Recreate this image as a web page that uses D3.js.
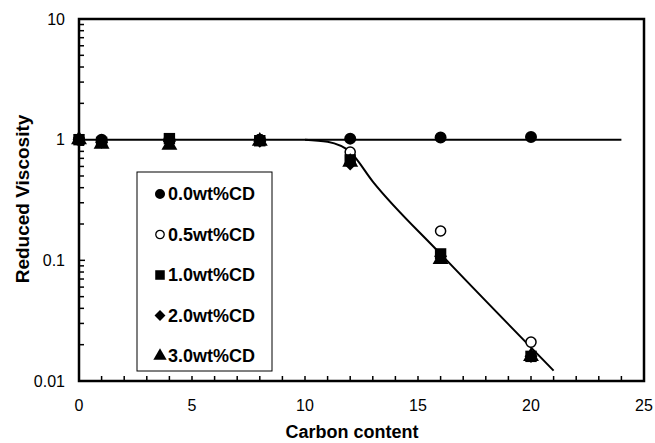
<!DOCTYPE html>
<html><head><meta charset="utf-8">
<script src="https://cdn.jsdelivr.net/npm/d3@7"></script>
<style>body{margin:0;background:#fff}svg{display:block}text{font-family:"Liberation Sans",Arial,sans-serif;fill:#000}</style>
</head><body><svg id="c" width="655" height="443"></svg>
<script>
const carbon = [0, 1, 4, 8, 12, 16, 20];
const cd00 = [1.0, 1.0, 1.0, 1.0, 1.02, 1.04, 1.05];
const cd05 = [1.0, 0.97, 1.0, 1.0, 0.79, 0.175, 0.021];
const cd10 = [1.0, 0.95, 1.02, 0.98, 0.68, 0.113, 0.016];
const cd20 = [1.0, 0.95, 0.97, 0.97, 0.63, 0.108, 0.016];
const cd30 = [1.0, 0.92, 0.9, 0.97, 0.65, 0.102, 0.016];
const seriesNames = ["0.0wt%CD", "0.5wt%CD", "1.0wt%CD", "2.0wt%CD", "3.0wt%CD"];
const flatFitX = [0, 24];
const flatFitY = [1, 1];
const dropFitX = [10, 11, 12, 13, 16, 21];
const dropFitY = [1.0, 0.96, 0.79, 0.45, 0.113, 0.0122];
const xTickLabels = [0, 5, 10, 15, 20, 25];
const yTickLabels = [0.01, 0.1, 1, 10];

const svg = d3.select("#c");
const L = 79, R = 644, T = 19, B = 381;
const x = d3.scaleLinear().domain([0, 25]).range([L, R]);
const y = d3.scaleLog().domain([0.01, 10]).range([B, T]);

const yMinor = [];
[0.01, 0.1, 1].forEach(d => { for (let k = 2; k <= 9; k++) yMinor.push(d * k); });
svg.append("g").selectAll("line").data(yMinor).join("line")
  .attr("x1", L).attr("x2", L + 5).attr("y1", d => y(d)).attr("y2", d => y(d))
  .attr("stroke", "#000").attr("stroke-width", 1.5);
svg.append("g").selectAll("line").data(yTickLabels).join("line")
  .attr("x1", L).attr("x2", L + 6).attr("y1", d => y(d)).attr("y2", d => y(d))
  .attr("stroke", "#000").attr("stroke-width", 1.5);
svg.append("g").selectAll("line").data(d3.range(0, 26)).join("line")
  .attr("x1", d => x(d)).attr("x2", d => x(d)).attr("y1", B).attr("y2", B - 5)
  .attr("stroke", "#000").attr("stroke-width", 1.5);

svg.append("rect").attr("x", L).attr("y", T).attr("width", R - L).attr("height", B - T)
  .attr("fill", "none").attr("stroke", "#000").attr("stroke-width", 2.5);

svg.append("g").selectAll("text").data(yTickLabels).join("text")
  .attr("x", 65).attr("y", d => y(d)).attr("dy", "0.35em").attr("text-anchor", "end")
  .attr("font-size", 16).text(d => String(d));
svg.append("g").selectAll("text").data(xTickLabels).join("text")
  .attr("x", d => x(d)).attr("y", 405).attr("dy", "0.35em").attr("text-anchor", "middle")
  .attr("font-size", 16).text(d => String(d));

svg.append("text").attr("x", 352).attr("y", 432).attr("dy", "0.35em").attr("text-anchor", "middle")
  .attr("font-size", 18).attr("font-weight", "bold").text("Carbon content");
svg.append("text").attr("transform", "translate(22,199) rotate(-90)").attr("dy", "0.35em")
  .attr("text-anchor", "middle").attr("font-size", 19).attr("font-weight", "bold").text("Reduced Viscosity");

const line = d3.line().x(d => x(d[0])).y(d => y(d[1])).curve(d3.curveMonotoneX);
svg.append("path").attr("d", line(flatFitX.map((v, i) => [v, flatFitY[i]])))
  .attr("fill", "none").attr("stroke", "#000").attr("stroke-width", 2);
svg.append("path").attr("d", line(dropFitX.map((v, i) => [v, dropFitY[i]])))
  .attr("fill", "none").attr("stroke", "#000").attr("stroke-width", 2);

const shapes = [
  {sym: d3.symbolCircle, size: 113, fill: "#000", rot: 0},
  {sym: d3.symbolCircle, size: 80, fill: "#fff", stroke: "#000", rot: 0},
  {sym: d3.symbolSquare, size: 130, fill: "#000", rot: 0},
  {sym: d3.symbolSquare, size: 85, fill: "#000", rot: 45},
  {sym: d3.symbolTriangle, size: 110, fill: "#000", rot: 0}
];
const allSeries = [cd00, cd05, cd10, cd20, cd30];
allSeries.forEach((vals, si) => {
  const s = shapes[si];
  svg.append("g").selectAll("path").data(vals).join("path")
    .attr("transform", (d, i) => `translate(${x(carbon[i])},${y(d)}) rotate(${s.rot})`)
    .attr("d", d3.symbol().type(s.sym).size(s.size))
    .attr("fill", s.fill).attr("stroke", s.stroke || "none").attr("stroke-width", 1.5);
});

const lg = svg.append("g");
lg.append("rect").attr("x", 137).attr("y", 172).attr("width", 135).attr("height", 199)
  .attr("fill", "#fff").attr("stroke", "#000").attr("stroke-width", 1);
seriesNames.forEach((n, i) => {
  const yy = 194 + i * 40.5;
  const s = shapes[i];
  lg.append("path").attr("transform", `translate(160,${yy}) rotate(${s.rot})`)
    .attr("d", d3.symbol().type(s.sym).size(s.size * 0.7))
    .attr("fill", s.fill).attr("stroke", s.stroke || "none").attr("stroke-width", 1.3);
  lg.append("text").attr("x", 168).attr("y", yy).attr("dy", "0.35em")
    .attr("font-size", 18).attr("font-weight", "bold").text(n);
});
</script></body></html>
